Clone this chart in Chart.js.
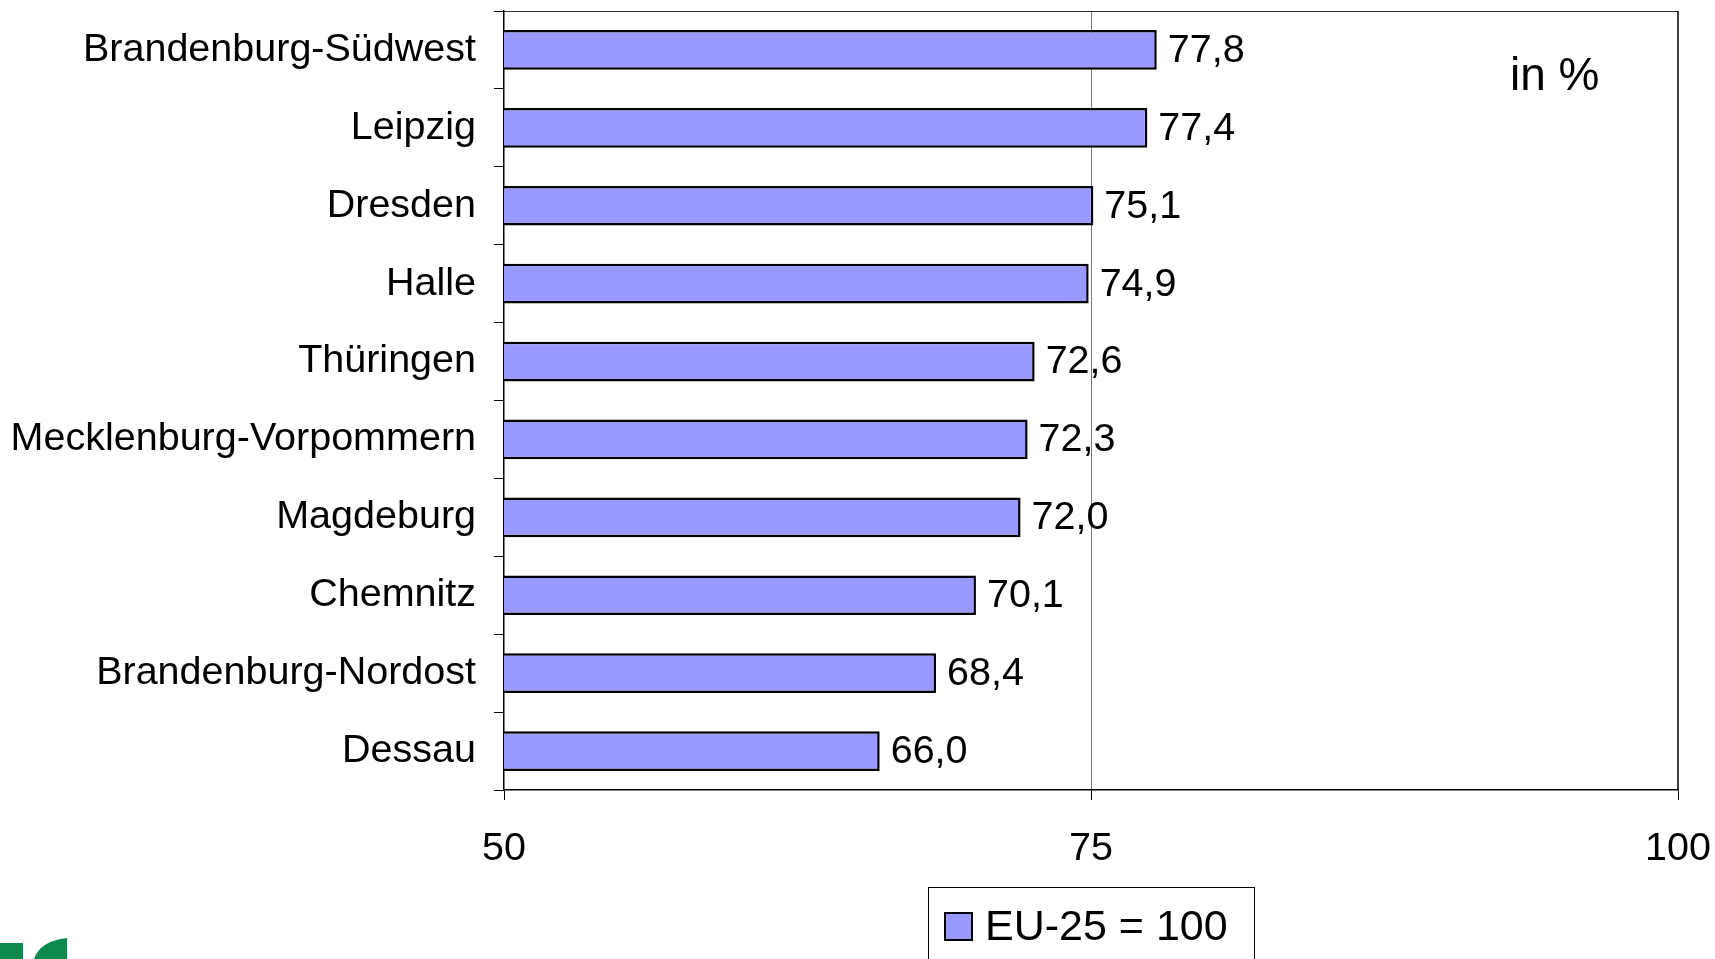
<!DOCTYPE html>
<html><head><meta charset="utf-8">
<script src="https://cdn.jsdelivr.net/npm/chart.js@4/dist/chart.umd.min.js"></script>
<style>html,body{margin:0;padding:0;background:#fff;overflow:hidden;}</style>
</head><body>
<canvas id="c" width="1715" height="959"></canvas>
<script>
const categories = ['Brandenburg-Südwest','Leipzig','Dresden','Halle','Thüringen','Mecklenburg-Vorpommern','Magdeburg','Chemnitz','Brandenburg-Nordost','Dessau'];
const values = [77.8, 77.4, 75.1, 74.9, 72.6, 72.3, 72.0, 70.1, 68.4, 66.0];
const xTicks = [50, 75, 100];
const seriesLabel = 'EU-25 = 100';
const unitNote = 'in %';

const FONT = "'Liberation Sans', Arial, sans-serif";
const BAR_FILL = '#9999FF';
const fmt = v => v.toFixed(1).replace('.', ',');

const extras = {
  id: 'extras',
  afterDatasetsDraw(chart) {
    const ctx = chart.ctx;
    const meta = chart.getDatasetMeta(0);
    ctx.save();
    ctx.font = '39.5px ' + FONT;
    ctx.fillStyle = '#000';
    ctx.textAlign = 'left';
    ctx.textBaseline = 'middle';
    meta.data.forEach((bar, i) => {
      ctx.fillText(fmt(values[i]), bar.x + 11, bar.y + 1);
    });
    ctx.restore();
  },
  afterDraw(chart) {
    const ctx = chart.ctx;
    const a = chart.chartArea;
    ctx.save();
    // plot frame top & right
    ctx.strokeStyle = '#333';
    ctx.lineWidth = 1.2;
    ctx.beginPath();
    ctx.moveTo(a.left, a.top + 0.5);
    ctx.lineTo(a.right, a.top + 0.5);
    ctx.stroke();
    ctx.strokeStyle = '#000';
    ctx.lineWidth = 1.5;
    ctx.beginPath();
    ctx.moveTo(a.right, a.top);
    ctx.lineTo(a.right, a.bottom);
    ctx.stroke();
    // unit note
    ctx.font = '46px ' + FONT;
    ctx.fillStyle = '#000';
    ctx.textAlign = 'left';
    ctx.textBaseline = 'alphabetic';
    ctx.fillText(unitNote, a.right - 168, a.top + 79);
    // legend
    const ds = chart.data.datasets[0];
    const cx = (a.left + a.right) / 2;
    const lx = cx - 163, ly = a.bottom + 97;
    ctx.strokeStyle = '#000';
    ctx.lineWidth = 1;
    ctx.strokeRect(lx + 0.5, ly + 0.5, 326, 120);
    ctx.fillStyle = ds.backgroundColor;
    ctx.fillRect(lx + 16, ly + 25, 29, 29);
    ctx.strokeStyle = ds.borderColor;
    ctx.lineWidth = 2;
    ctx.strokeRect(lx + 17, ly + 26, 27, 27);
    ctx.fillStyle = '#000';
    ctx.font = '43px ' + FONT;
    ctx.fillText(ds.label, lx + 57, ly + 53);
    // logo fragment
    ctx.fillStyle = '#0b8a4e';
    ctx.fillRect(0, 943, 23, 16);
    ctx.beginPath();
    ctx.moveTo(67, 938);
    ctx.lineTo(67, 959);
    ctx.lineTo(34, 959);
    ctx.quadraticCurveTo(40, 941, 67, 938);
    ctx.closePath();
    ctx.fill();
    ctx.restore();
  }
};

new Chart(document.getElementById('c'), {
  type: 'bar',
  data: {
    labels: categories,
    datasets: [{
      label: seriesLabel,
      data: values,
      backgroundColor: BAR_FILL,
      borderColor: '#000',
      borderWidth: 2.5,
      borderSkipped: false,
      barPercentage: 0.51,
      categoryPercentage: 1
    }]
  },
  options: {
    indexAxis: 'y',
    responsive: false,
    devicePixelRatio: 1,
    animation: false,
    layout: { padding: { left: 0, right: 37, top: 11, bottom: 69 } },
    plugins: { legend: { display: false }, tooltip: { enabled: false } },
    scales: {
      x: {
        type: 'linear',
        min: 50, max: 100,
        afterBuildTicks: s => { s.ticks = xTicks.map(v => ({ value: v })); },
        afterFit: s => { s.height = 100; s.paddingLeft = 0; s.paddingRight = 0; },
        grid: {
          drawOnChartArea: true,
          color: ctx => (ctx.tick && ctx.tick.value === 75) ? '#7a7a7a' : 'rgba(0,0,0,0)',
          tickColor: '#000',
          lineWidth: 1,
          tickLength: 10
        },
        border: { display: true, color: '#000', width: 1.5 },
        ticks: { color: '#000', font: { family: FONT, size: 39.5 }, padding: 25, callback: v => String(v) }
      },
      y: {
        afterFit: s => { s.width = 504; s.paddingTop = 0; s.paddingBottom = 0; },
        grid: { drawOnChartArea: false, offset: true, tickLength: 10, color: '#000', lineWidth: 1 },
        border: { display: true, color: '#000', width: 1.5 },
        ticks: { color: '#000', font: { family: FONT, size: 39.5 }, padding: 18, autoSkip: false }
      }
    }
  },
  plugins: [extras]
});
</script>
</body></html>
